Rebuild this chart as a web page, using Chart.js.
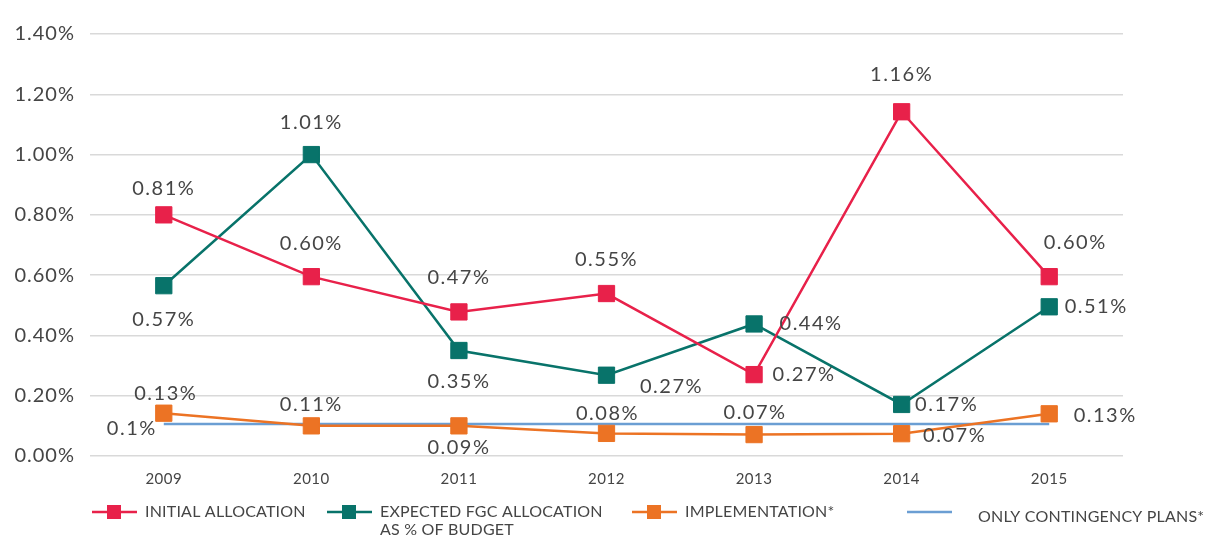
<!DOCTYPE html>
<html>
<head>
<meta charset="utf-8">
<script src="https://cdn.jsdelivr.net/npm/chart.js@4.4.1/dist/chart.umd.min.js"></script>
<style>
  html, body { margin: 0; padding: 0; background: #fff; }
  #wrap { width: 1207px; height: 537px; }
</style>
</head>
<body>
<div id="wrap"><canvas id="chart" width="1207" height="537"></canvas></div>
<script>
const years = ['2009', '2010', '2011', '2012', '2013', '2014', '2015']

// values in percent of budget
const initialAllocation = [0.80, 0.595, 0.478, 0.539, 0.27, 1.142, 0.595]
const expectedAllocation = [0.565, 1.00, 0.35, 0.268, 0.438, 0.171, 0.495]
const implementation = [0.142, 0.10, 0.10, 0.075, 0.071, 0.074, 0.14]
const contingencyOnly = [0.106, 0.106, 0.106, 0.106, 0.106, 0.106, 0.106]

// printed value labels
const initialLabels = ['0.81%', '0.60%', '0.47%', '0.55%', '0.27%', '1.16%', '0.60%']
const expectedLabels = ['0.57%', '1.01%', '0.35%', '0.27%', '0.44%', '0.17%', '0.51%']
const implementationLabels = ['0.13%', '0.11%', '0.09%', '0.08%', '0.07%', '0.07%', '0.13%']
const contingencyLabels = ['0.1%', null, null, null, null, null, null]

const yTicks = [0, 0.2, 0.4, 0.6, 0.8, 1.0, 1.2, 1.4]

// where each value label sits relative to its point [dx, dy]
const labelOffsets = [
  [[0, -26], [0, -33], [0, -34], [0, -34], [50, 0], [0, -37], [26, -34]],
  [[0, 34], [0, -32], [0, 31], [65, 11], [57, 0], [45, 0], [47, 0]],
  [[2, -20], [0, -21], [0, 22], [1, -20], [1, -22], [53, 2], [56, 2]],
  [[-32, 4], null, null, null, null, null, null]
]

const RED = '#e8214a'
const TEAL = '#08736a'
const ORANGE = '#ec7324'
const BLUE = '#6b9ed3'
const TEXT = '#454545'
const FONT = 'Lato, "Open Sans", sans-serif'

const allLabels = [initialLabels, expectedLabels, implementationLabels, contingencyLabels]

// y tick labels are drawn before the datasets, x tick labels after (ticks.z = 1)
const spacing = {
  id: 'spacing',
  beforeDraw(chart) {
    chart.ctx.letterSpacing = '1px'
  }
}

const valueLabels = {
  id: 'valueLabels',
  afterDatasetsDraw(chart) {
    const ctx = chart.ctx
    ctx.save()
    ctx.font = '20px ' + FONT
    ctx.letterSpacing = '1.5px'
    ctx.fillStyle = TEXT
    ctx.textAlign = 'center'
    ctx.textBaseline = 'middle'
    allLabels.forEach((labels, i) => {
      const meta = chart.getDatasetMeta(i)
      labels.forEach((txt, j) => {
        if (!txt) return
        const off = labelOffsets[i][j]
        const pt = meta.data[j]
        ctx.fillText(txt, pt.x + off[0], pt.y + off[1])
      })
    })
    ctx.restore()
    ctx.letterSpacing = '0.5px'
  }
}

const legendX = [92, 327, 632, 907]

const customLegend = {
  id: 'customLegend',
  afterDraw(chart) {
    const ctx = chart.ctx
    const y = 512
    ctx.save()
    ctx.font = '16px ' + FONT
    ctx.letterSpacing = '0.2px'
    ctx.textBaseline = 'middle'
    chart.data.datasets.forEach((ds, i) => {
      const x = legendX[i]
      ctx.strokeStyle = ds.borderColor
      ctx.lineWidth = 2.5
      ctx.beginPath()
      ctx.moveTo(x, y)
      ctx.lineTo(x + 45, y)
      ctx.stroke()
      if (ds.pointRadius > 0) {
        ctx.fillStyle = ds.borderColor
        ctx.fillRect(x + 15, y - 7, 14, 14)
      }
      ctx.fillStyle = TEXT
      const lines = ds.label.split('\n')
      const tx = i === 3 ? x + 71 : x + 53
      const ty = i === 3 ? y + 5 : y
      lines.forEach((ln, k) => ctx.fillText(ln, tx, ty + k * 18))
    })
    ctx.restore()
  }
}

const ctx = document.getElementById('chart').getContext('2d')

new Chart(ctx, {
  type: 'line',
  data: {
    labels: years,
    datasets: [
      {label: 'INITIAL ALLOCATION', data: initialAllocation, borderColor: RED, backgroundColor: RED,
        borderWidth: 2.5, pointStyle: 'rect', pointRadius: 11.5, pointBorderWidth: 1},
      {label: 'EXPECTED FGC ALLOCATION\nAS % OF BUDGET', data: expectedAllocation, borderColor: TEAL, backgroundColor: TEAL,
        borderWidth: 2.5, pointStyle: 'rect', pointRadius: 11.5, pointBorderWidth: 1},
      {label: 'IMPLEMENTATION*', data: implementation, borderColor: ORANGE, backgroundColor: ORANGE,
        borderWidth: 2.5, pointStyle: 'rect', pointRadius: 11.5, pointBorderWidth: 1},
      {label: 'ONLY CONTINGENCY PLANS*', data: contingencyOnly, borderColor: BLUE, backgroundColor: BLUE,
        borderWidth: 2.5, pointRadius: 0}
    ]
  },
  options: {
    responsive: false,
    animation: false,
    layout: {padding: {top: 34, right: 84, bottom: 51, left: 0}},
    plugins: {legend: {display: false}, tooltip: {enabled: false}},
    scales: {
      x: {
        offset: true,
        grid: {display: false},
        border: {display: false},
        ticks: {font: {family: FONT, size: 15}, color: TEXT, padding: 6, z: 1},
        afterFit: (s) => { s.height = 30 }
      },
      y: {
        min: 0,
        max: 1.4,
        afterBuildTicks: (s) => { s.ticks = yTicks.map(v => ({value: v})) },
        grid: {color: '#d9d9d9', lineWidth: 1.5, drawTicks: false},
        border: {display: false},
        ticks: {font: {family: FONT, size: 20}, color: TEXT, padding: 15, callback: (v) => v.toFixed(2) + '%'},
        afterFit: (s) => { s.width = 90 }
      }
    }
  },
  plugins: [spacing, valueLabels, customLegend]
});
</script>
</body>
</html>
